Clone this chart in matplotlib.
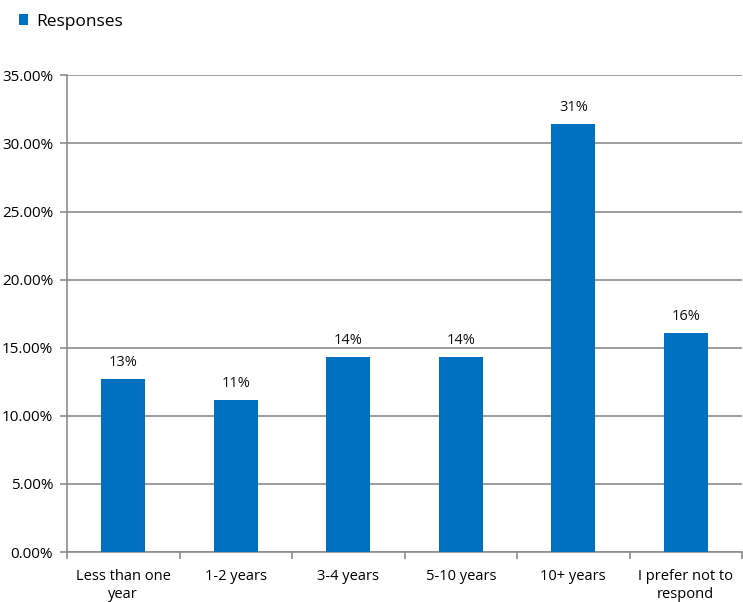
import matplotlib
matplotlib.use("Agg")
import matplotlib.pyplot as plt
import numpy as np
from matplotlib.ticker import FuncFormatter, FixedLocator

categories = ["Less than one\nyear", "1-2 years", "3-4 years", "5-10 years", "10+ years", "I prefer not to\nrespond"]
values = [12.7, 11.14, 14.3, 14.3, 31.42, 16.1]
labels = ["13%", "11%", "14%", "14%", "31%", "16%"]
yticks = [0, 5, 10, 15, 20, 25, 30, 35]

plt.rcParams['font.family'] = ['Open Sans', 'DejaVu Sans']

fig = plt.figure(figsize=(7.43, 6.02), dpi=100)
ax = fig.add_axes([67/743, 1-552/602, (742-67)/743, (552-75.3)/602])

x = np.arange(len(categories))
bars = ax.bar(x, values, width=0.39, color="#0070C0", zorder=3, label="Responses")
for xi, v, l in zip(x, values, labels):
    ax.text(xi, v + 0.65, l, ha="center", va="bottom", fontsize=10.5, color="#111111")

ax.set_xlim(-0.5, len(categories) - 0.5)
ax.set_ylim(0, 35)
ax.set_yticks(yticks)
ax.yaxis.set_major_formatter(FuncFormatter(lambda v, p: f"{v:.2f}%"))
ax.grid(axis="y", color="#8c8c8c", linewidth=1.2, zorder=0)

ax.set_xticks(x)
ax.set_xticklabels(categories, fontsize=10.5, linespacing=1.3)
ax.xaxis.set_minor_locator(FixedLocator(np.arange(-0.5, len(categories), 1)))
ax.tick_params(axis="x", which="major", length=0, pad=12)
ax.tick_params(axis="x", which="minor", length=5, color="#8c8c8c", width=1.2)
ax.tick_params(axis="y", length=5, color="#8c8c8c", width=1.2, labelsize=11, pad=5)

for s in ["top", "right"]:
    ax.spines[s].set_visible(False)
for s in ["left", "bottom"]:
    ax.spines[s].set_color("#8c8c8c")
    ax.spines[s].set_linewidth(1.2)

fig.legend(handles=[bars], labels=["Responses"], loc="upper left", bbox_to_anchor=(0.004, 1.003),
           frameon=False, fontsize=12.5, handlelength=0.55, handleheight=0.55, handletextpad=0.45)

fig.savefig("out.png", dpi=100)
